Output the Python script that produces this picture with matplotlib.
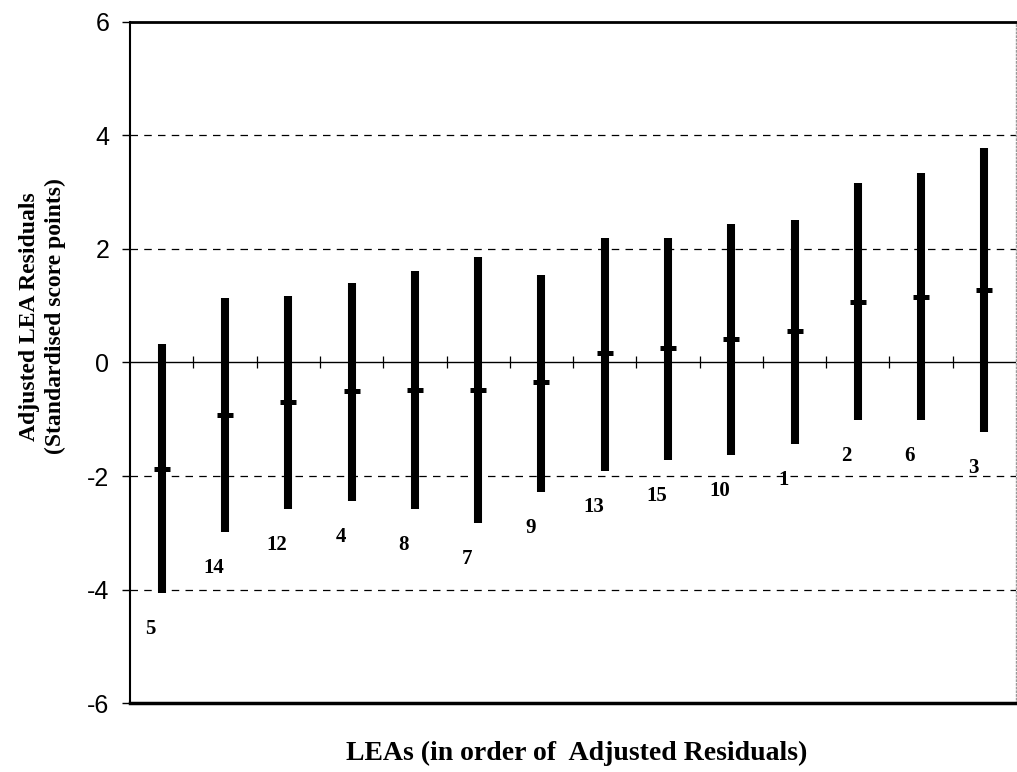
import matplotlib.pyplot as plt
import numpy as np

# LEAs in order of adjusted residual
leas = ['5', '14', '12', '4', '8', '7', '9', '13', '15', '10', '1', '2', '6', '3']
resid = [-1.87, -0.92, -0.70, -0.50, -0.48, -0.48, -0.35, 0.16, 0.25, 0.41, 0.55, 1.07, 1.16, 1.28]
upper = [0.32, 1.14, 1.17, 1.40, 1.61, 1.86, 1.54, 2.19, 2.19, 2.44, 2.51, 3.16, 3.33, 3.77]
lower = [-4.05, -2.99, -2.58, -2.44, -2.58, -2.83, -2.28, -1.91, -1.72, -1.63, -1.43, -1.01, -1.01, -1.23]

x = np.arange(len(leas))
serif = 'Liberation Serif'

fig = plt.figure(figsize=(10.17, 7.72), dpi=100)
ax = fig.add_axes([0.128, 0.089, 0.871, 0.883])

# dashed gridlines and the zero line
for g in [-4, -2, 2, 4]:
    ax.axhline(g, color='black', lw=0.9, ls=(0, (6, 5)), zorder=1)
ax.axhline(0, color='black', lw=1.0, zorder=1)
# category tick marks on the zero line
ax.plot(x[:-1] + 0.5, np.zeros(len(x) - 1), ls='none', marker='|',
        ms=9, mew=0.9, color='black', zorder=1)

# interval bars
ax.vlines(x, lower, upper, color='black', lw=5.8, zorder=3)
# point estimates
ax.plot(x, resid, ls='none', marker='_', ms=12, mew=3.6, color='black', zorder=4)

# LEA labels underneath each bar
for xi, lo, name in zip(x, lower, leas):
    ax.annotate(name, (xi, lo), xytext=(-8, -26), textcoords='offset points',
                ha='center', va='center', fontsize=15, fontweight='bold',
                family=serif)

ax.set_xlim(-0.5, len(leas) - 0.5)
ax.set_ylim(-6, 6)
ax.set_yticks([-6, -4, -2, 0, 2, 4, 6])
ax.set_yticklabels(['-6', '-4', '-2', '0', '2', '4', '6'],
                   fontsize=18, family='Liberation Sans')
ax.tick_params(axis='y', direction='out', length=6, width=1, pad=9)
ax.set_xticks([])

ax.spines['top'].set_linewidth(2.0)
ax.spines['bottom'].set_linewidth(2.5)
ax.spines['left'].set_linewidth(1.5)
ax.spines['right'].set_color('#999999')
ax.spines['right'].set_linestyle(':')
ax.spines['right'].set_linewidth(1.0)

fig.text(0.042, 0.59, 'Adjusted LEA Residuals\n(Standardised score points)',
         rotation=90, ha='center', va='center', fontsize=17, fontweight='bold',
         family=serif, linespacing=1.3)
fig.text(0.567, 0.024, 'LEAs (in order of  Adjusted Residuals)',
         ha='center', va='center', fontsize=20, fontweight='bold', family=serif)

fig.savefig('out.png', dpi=100)
